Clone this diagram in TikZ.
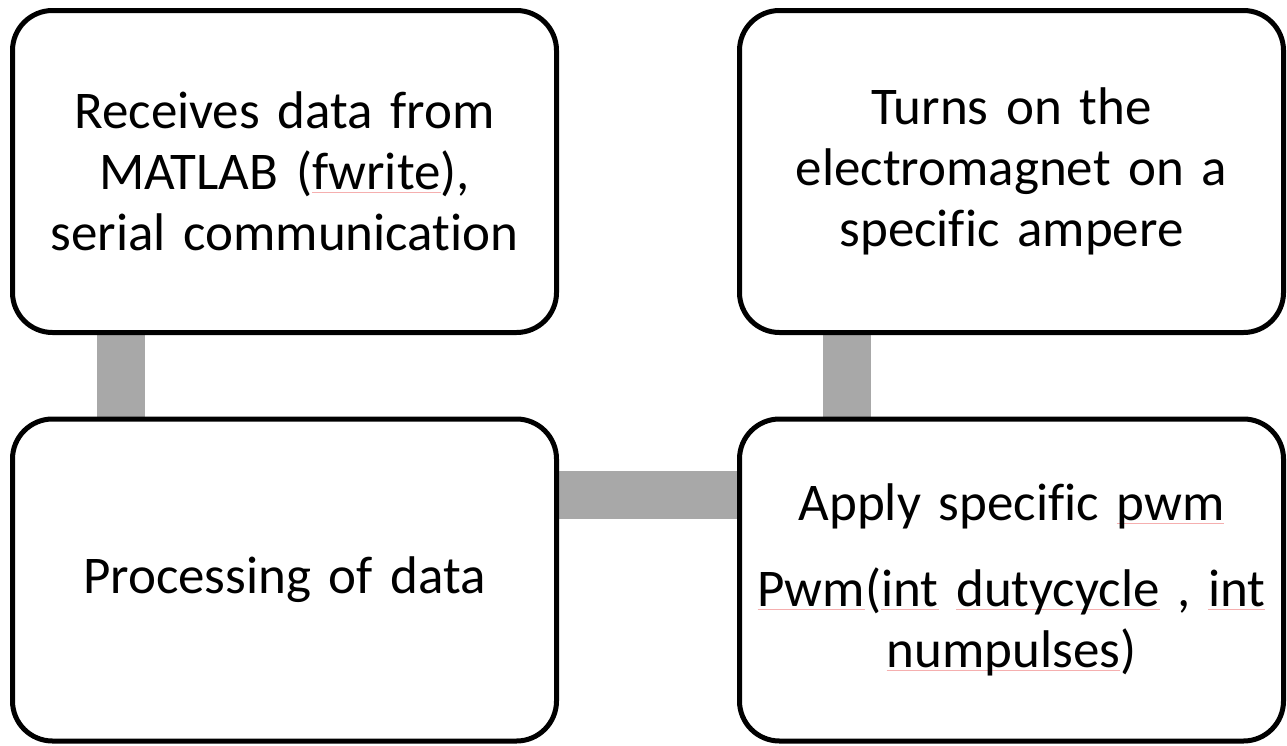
\documentclass[tikz,border=0pt]{standalone}
\usepackage{fontspec}
\setmainfont[Ligatures=CommonOff]{Carlito}
\usetikzlibrary{calc,backgrounds}
\definecolor{conn}{RGB}{168,168,168}
\definecolor{spell}{RGB}{245,175,175}
\newcommand\spl[1]{\leavevmode\setbox0\hbox{#1}\rlap{\color{spell}\rule[-3pt]{\wd0}{1pt}}\box0\relax}
\tikzset{
  boxnode/.style={draw=black, fill=white, line width=5pt, rounded corners=40pt,
    minimum width=544pt, minimum height=322pt, inner sep=0pt, text width=535pt,
    align=center, font=\fontsize{53}{61}\selectfont},
  connector/.style={draw=conn, line width=48pt, line cap=butt}
}
\begin{document}
\begin{tikzpicture}[x=1pt,y=-1pt]
\useasboundingbox (0,0) rectangle (1287,745);
\node[boxnode] (b1) at (284.5,171.5) {Receives data from\\MATLAB (\spl{fwrite}),\\serial communication};
\node[boxnode] (b2) at (1011.5,171.5) {Turns on the\\electromagnet on a\\specific ampere};
\node[boxnode] (b3) at (284.5,580) {Processing of data};
\node[boxnode] (b4) at (1011.5,580) {Apply specific \spl{pwm}\\[25pt]\spl{Pwm}(\spl{int} \spl{dutycycle} , \spl{int}\\\spl{numpulses})};
\begin{scope}[on background layer]
\draw[connector] ([xshift=110.5pt]b1.south west) -- ([xshift=110.5pt]b3.north west);
\draw[connector] ([xshift=109.5pt]b2.south west) -- ([xshift=109.5pt]b4.north west);
\draw[connector] ([yshift=-78.5pt]b3.north east) -- ([yshift=-78.5pt]b4.north west);
\end{scope}
\end{tikzpicture}
\end{document}
